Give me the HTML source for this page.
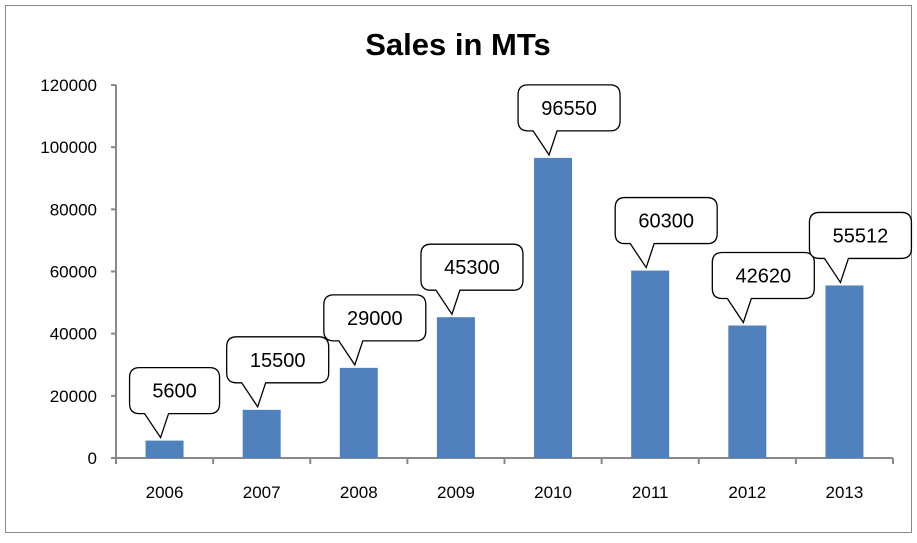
<!DOCTYPE html>
<html><head><meta charset="utf-8"><style>
body{margin:0;background:#fff;font-family:"Liberation Sans",sans-serif}
svg text{font-family:"Liberation Sans",sans-serif}
</style></head><body>
<svg id="chart" width="917" height="538" xmlns="http://www.w3.org/2000/svg">
<rect x="5.5" y="5.5" width="906" height="527" fill="#fff" stroke="#888" stroke-width="1"/>
<text x="458" y="55" font-size="31" font-weight="bold" text-anchor="middle">Sales in MTs</text>
<g id="axes"></g><g id="bars"></g><g id="labels"></g>
</svg>
<script>
const categories=["2006","2007","2008","2009","2010","2011","2012","2013"];
const sales=[5600,15500,29000,45300,96550,60300,42620,55512];
const yTicks=[0,20000,40000,60000,80000,100000,120000];
const NS="http://www.w3.org/2000/svg";
const X0=116,X1=893,Y0=458,Y1=85,YMAX=120000;
const bw=(X1-X0)/categories.length;
function y(v){return Y0-(v/YMAX)*(Y0-Y1);}
function xc(i){return X0+bw*(i+0.5);}
function mk(tag,attrs,parent){const e=document.createElementNS(NS,tag);for(const k in attrs)e.setAttribute(k,attrs[k]);parent.appendChild(e);return e;}
const axes=document.getElementById('axes'),bars=document.getElementById('bars'),labels=document.getElementById('labels');
let a=mk('line',{x1:X0,y1:Y1,x2:X0,y2:Y0,stroke:'#888','stroke-width':2},axes);


a=mk('line',{x1:X0-5,y1:Y0,x2:X1,y2:Y0,stroke:'#888','stroke-width':2},axes);


yTicks.forEach(t=>{
 const l=mk('line',{x1:X0-5,y1:y(t),x2:X0,y2:y(t),stroke:'#888','stroke-width':2},axes);
 
 
 const tx=mk('text',{x:97,y:y(t)+6,'font-size':17,'text-anchor':'end'},axes);
 tx.textContent=t;
 
 
});
for(let i=0;i<=categories.length;i++){
 const l=mk('line',{x1:X0+bw*i,y1:Y0,x2:X0+bw*i,y2:Y0+6,stroke:'#888','stroke-width':2},axes);
 
 
}
categories.forEach((c,i)=>{
 const tx=mk('text',{x:xc(i),y:498,'font-size':17,'text-anchor':'middle'},axes);
 tx.textContent=c;
 
 
 const top=y(sales[i]);
 const b=mk('rect',{x:xc(i)-19,y:top,width:38,height:Y0-top,fill:'#4f81bd'},bars);
 
 
 const txt=String(sales[i]);
 const w=txt.length>4?102:90;
 const bx=xc(i)-35,bb=top-27,bt=bb-46,r=10,tipx=xc(i)-4,tipy=top-3;
 const p1=xc(i)-20,p2=xc(i)+4;
 const d=`M${bx+r},${bt} H${bx+w-r} Q${bx+w},${bt} ${bx+w},${bt+r} V${bb-r} Q${bx+w},${bb} ${bx+w-r},${bb} H${p2} L${tipx},${tipy} L${p1},${bb} H${bx+r} Q${bx},${bb} ${bx},${bb-r} V${bt+r} Q${bx},${bt} ${bx+r},${bt} Z`;
 const g=mk('g',{},labels);
 
 
 mk('path',{d:d,fill:'#fff',stroke:'#000','stroke-width':1.3},g);
 const vt=mk('text',{x:bx+w/2,y:bt+30,'font-size':20,'text-anchor':'middle'},g);
 vt.textContent=txt;
 
 
});
</script>
</body></html>
